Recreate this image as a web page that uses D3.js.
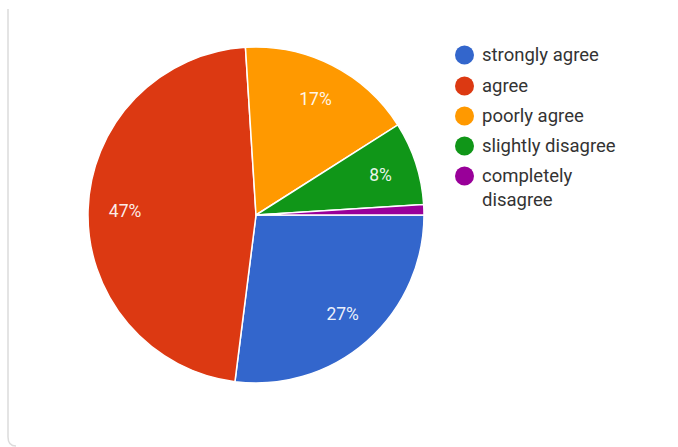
<!DOCTYPE html>
<html>
<head>
<meta charset="utf-8">
<script src="https://cdn.jsdelivr.net/npm/d3@7"></script>
<style>
  html, body { margin: 0; padding: 0; background: #fff; }
  svg { display: block; font-family: Roboto, Arial, sans-serif; }
</style>
</head>
<body>
<svg id="chart" width="678" height="447"></svg>
<script>
// Survey responses
const categories = ["strongly agree", "agree", "poorly agree", "slightly disagree", "completely disagree"];
const values = [27, 47, 17, 8, 1];
const colors = ["#3366cc", "#dc3912", "#ff9900", "#109618", "#990099"];

const svg = d3.select("#chart");

// card edge on the left
svg.append("path")
  .attr("d", "M8,9 L8,437 Q8,446 16,446")
  .attr("fill", "none")
  .attr("stroke", "#dcdcdc")
  .attr("stroke-width", 1.5);

const cx = 256, cy = 215, R = 168;
const total = d3.sum(values);

const pie = d3.pie()
  .sort(null)
  .startAngle(Math.PI / 2)
  .endAngle(Math.PI / 2 + 2 * Math.PI)
  .value(d => d);

const arcs = pie(values);
const arc = d3.arc().innerRadius(0).outerRadius(R);
const labelArc = d3.arc().innerRadius(131).outerRadius(131);

const g = svg.append("g").attr("transform", `translate(${cx},${cy})`);

g.selectAll("path.slice")
  .data(arcs)
  .join("path")
  .attr("class", "slice")
  .attr("d", arc)
  .attr("fill", (d, i) => colors[i])
  .attr("stroke", "#fff")
  .attr("stroke-width", 1.5);

g.selectAll("text.pct")
  .data(arcs.filter(d => d.data / total >= 0.05))
  .join("text")
  .attr("class", "pct")
  .attr("transform", d => `translate(${labelArc.centroid(d)})`)
  .attr("text-anchor", "middle")
  .attr("dy", "0.36em")
  .attr("fill", "#fff")
  .attr("fill-opacity", 0.92)
  .attr("font-size", 17.5)
  .text(d => Math.round(d.data / total * 100) + "%");

// legend
const legend = svg.append("g").attr("transform", "translate(464.5,55)");
const rowY = [0, 31, 61, 91, 121];
categories.forEach((c, i) => {
  const row = legend.append("g").attr("transform", `translate(0,${rowY[i]})`);
  row.append("circle").attr("r", 9.5).attr("fill", colors[i]);
  const words = c === "completely disagree" ? ["completely", "disagree"] : [c];
  words.forEach((w, j) => {
    row.append("text")
      .attr("x", 17.5)
      .attr("y", j * 24)
      .attr("dy", "0.35em")
      .attr("font-size", 18.5)
      .attr("fill", "#333")
      .text(w);
  });
});
</script>
</body>
</html>
